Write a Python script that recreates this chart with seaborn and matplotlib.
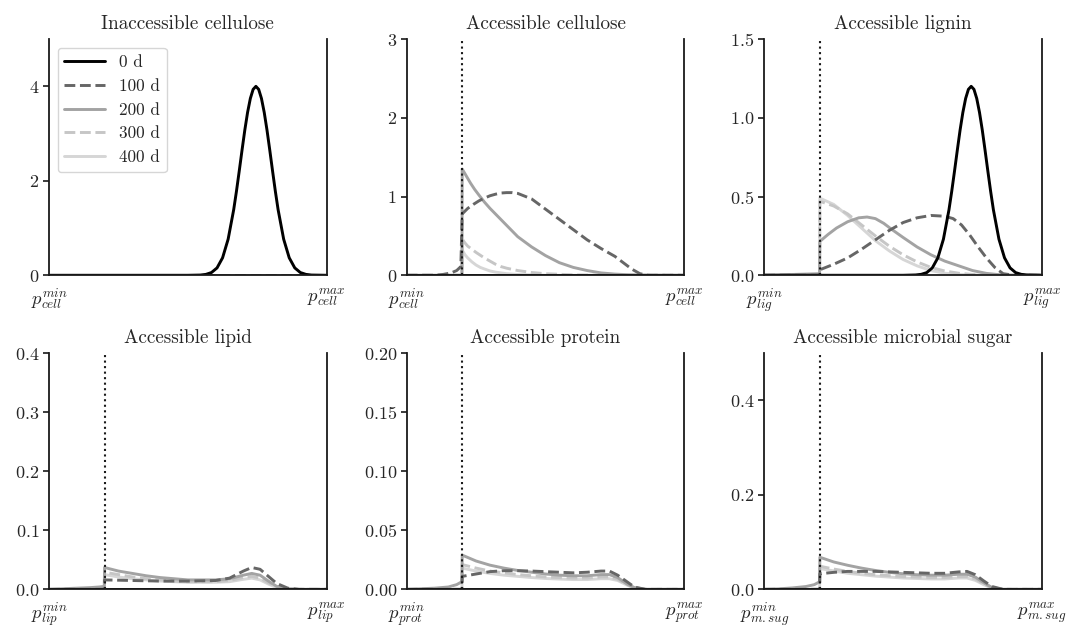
import numpy as np
import pandas as pd
import matplotlib
matplotlib.use('Agg')
import matplotlib.pyplot as plt
import seaborn as sns

days = ['0 d', '100 d', '200 d', '300 d', '400 d']
day_colors = ['#000000', '#666666', '#a3a3a3', '#c6c6c6', '#d6d6d6']
day_styles = ['-', '--', '-', '--', '-']

titles = ['Inaccessible cellulose', 'Accessible cellulose', 'Accessible lignin',
          'Accessible lipid', 'Accessible protein', 'Accessible microbial sugar']
subs = ['cell', 'cell', 'lig', 'lip', 'prot', 'm{.}sug']
ylims = [5, 3, 1.5, 0.4, 0.2, 0.5]
yticks = [[0, 2, 4], [0, 1, 2, 3], [0.0, 0.5, 1.0, 1.5],
          [0.0, 0.1, 0.2, 0.3, 0.4], [0.0, 0.05, 0.10, 0.15, 0.20], [0.0, 0.2, 0.4]]
cutoff = 0.2

zero_x = [0.0, 1.0]
zero_y = [0.0, 0.0]

# bell shaped initial distribution (inaccessible cellulose / lignin)
peak_x = [0.0, 0.5, 0.545, 0.565, 0.585, 0.605, 0.625, 0.645, 0.665, 0.675, 0.685, 0.695,
          0.705, 0.715, 0.725, 0.735, 0.745, 0.755, 0.765, 0.775, 0.785, 0.795, 0.805,
          0.815, 0.825, 0.845, 0.865, 0.885, 0.905, 0.925, 0.945, 1.0]
cell_in_0d = [0, 0, 0.005, 0.019, 0.058, 0.156, 0.37, 0.764, 1.388, 1.78, 2.208, 2.648,
              3.072, 3.448, 3.744, 3.936, 4.0, 3.936, 3.744, 3.448, 3.072, 2.648, 2.208,
              1.78, 1.388, 0.764, 0.37, 0.156, 0.058, 0.019, 0.005, 0]
lig_0d = [0, 0, 0.002, 0.006, 0.017, 0.047, 0.111, 0.229, 0.416, 0.534, 0.662, 0.794,
          0.922, 1.034, 1.123, 1.181, 1.2, 1.181, 1.123, 1.034, 0.922, 0.794, 0.662,
          0.534, 0.416, 0.229, 0.111, 0.047, 0.017, 0.006, 0.002, 0]

# accessible cellulose
cell_100d_x = [0.0, 0.1, 0.13, 0.16, 0.18, 0.195, 0.2, 0.22, 0.24, 0.26, 0.28, 0.3, 0.32,
               0.34, 0.36, 0.38, 0.4, 0.45, 0.5, 0.55, 0.6, 0.65, 0.7, 0.75, 0.78, 0.81,
               0.84, 0.87, 1.0]
cell_100d_y = [0, 0, 0.01, 0.03, 0.06, 0.11, 0.78, 0.85, 0.9, 0.945, 0.98, 1.01, 1.03,
               1.045, 1.05, 1.05, 1.04, 0.97, 0.84, 0.71, 0.58, 0.45, 0.34, 0.24, 0.16,
               0.08, 0.02, 0.0, 0]
cell_200d_x = [0.0, 0.199, 0.2, 0.215, 0.23, 0.245, 0.26, 0.28, 0.3, 0.325, 0.35, 0.375,
               0.4, 0.45, 0.5, 0.55, 0.6, 0.65, 0.7, 0.75, 0.8, 0.9, 1.0]
cell_200d_y = [0, 0, 1.35, 1.26, 1.17, 1.09, 1.02, 0.93, 0.85, 0.76, 0.67, 0.58,
               0.49, 0.36, 0.25, 0.16, 0.10, 0.06, 0.03, 0.015, 0.006, 0.001, 0]
cell_300d_x = [0.0, 0.199, 0.2, 0.21, 0.22, 0.235, 0.25, 0.265, 0.28, 0.3, 0.32, 0.34,
               0.36, 0.4, 0.45, 0.5, 0.6, 0.7, 1.0]
cell_300d_y = [0, 0, 0.46, 0.41, 0.37, 0.33, 0.29, 0.255, 0.22, 0.18, 0.14, 0.11,
               0.09, 0.06, 0.035, 0.02, 0.005, 0, 0]
cell_400d_x = [0.0, 0.199, 0.2, 0.21, 0.22, 0.235, 0.25, 0.265, 0.28, 0.3, 0.32, 0.36,
               0.4, 0.5, 1.0]
cell_400d_y = [0, 0, 0.32, 0.26, 0.22, 0.17, 0.13, 0.1, 0.08, 0.055, 0.04, 0.02,
               0.01, 0, 0]

# accessible lignin
lig_100d_x = [0.0, 0.199, 0.2, 0.25, 0.3, 0.35, 0.4, 0.45, 0.5, 0.55, 0.6, 0.65, 0.68,
              0.71, 0.74, 0.77, 0.8, 0.83, 0.86, 0.9, 1.0]
lig_100d_y = [0, 0, 0.035, 0.07, 0.11, 0.165, 0.225, 0.285, 0.335, 0.365, 0.38, 0.375,
              0.36, 0.32, 0.255, 0.18, 0.11, 0.05, 0.01, 0, 0]
lig_200d_x = [0.0, 0.199, 0.2, 0.23, 0.26, 0.3, 0.34, 0.37, 0.4, 0.43, 0.46, 0.5, 0.55,
              0.6, 0.65, 0.7, 0.75, 0.8, 0.85, 0.9, 1.0]
lig_200d_y = [0, 0.01, 0.215, 0.26, 0.30, 0.34, 0.365, 0.37, 0.36, 0.33, 0.29, 0.24,
              0.18, 0.13, 0.09, 0.06, 0.03, 0.012, 0.003, 0, 0]
lig_300d_x = [0.0, 0.199, 0.2, 0.25, 0.3, 0.35, 0.4, 0.45, 0.5, 0.55, 0.6, 0.65, 0.7,
              0.75, 0.8, 1.0]
lig_300d_y = [0, 0, 0.47, 0.44, 0.39, 0.32, 0.25, 0.185, 0.13, 0.085, 0.05, 0.027,
              0.013, 0.005, 0, 0]
lig_400d_x = [0.0, 0.199, 0.2, 0.25, 0.3, 0.35, 0.4, 0.45, 0.5, 0.55, 0.6, 0.65, 0.7,
              0.8, 1.0]
lig_400d_y = [0, 0, 0.49, 0.45, 0.38, 0.30, 0.22, 0.155, 0.10, 0.06, 0.03, 0.013,
              0.005, 0, 0]

# accessible lipid / protein / microbial sugar share the same x positions
tail_x = [0.0, 0.05, 0.1, 0.15, 0.18, 0.199, 0.2, 0.25, 0.3, 0.35, 0.4, 0.45, 0.5, 0.55,
          0.6, 0.65, 0.7, 0.73, 0.76, 0.79, 0.82, 0.86, 0.9, 1.0]
mix_x = [0.0, 0.199, 0.2, 0.25, 0.3, 0.35, 0.4, 0.45, 0.5, 0.55, 0.6, 0.65, 0.7, 0.73,
         0.76, 0.79, 0.82, 0.86, 0.9, 1.0]

lip_100d = [0, 0, 0.016, 0.0155, 0.015, 0.0145, 0.014, 0.014, 0.014, 0.0145, 0.015,
            0.019, 0.031, 0.037, 0.034, 0.022, 0.01, 0.002, 0, 0]
lip_200d = [0, 0.001, 0.002, 0.003, 0.004, 0.005, 0.037, 0.031, 0.027, 0.023, 0.02, 0.018,
            0.016, 0.016, 0.016, 0.018, 0.024, 0.027, 0.024, 0.014, 0.005, 0.001, 0, 0]
lip_300d = [0, 0, 0.029, 0.025, 0.021, 0.018, 0.016, 0.014, 0.013, 0.013, 0.013, 0.015,
            0.02, 0.022, 0.019, 0.011, 0.004, 0.001, 0, 0]
lip_400d = [0, 0, 0.025, 0.021, 0.018, 0.016, 0.014, 0.013, 0.012, 0.012, 0.012, 0.013,
            0.017, 0.019, 0.016, 0.009, 0.003, 0.001, 0, 0]

prot_100d = [0, 0, 0.011, 0.013, 0.015, 0.0158, 0.0158, 0.0155, 0.015, 0.0145, 0.014,
             0.0145, 0.0155, 0.0155, 0.012, 0.007, 0.002, 0, 0, 0]
prot_200d = [0, 0.0005, 0.001, 0.002, 0.004, 0.0065, 0.029, 0.024, 0.0205, 0.018, 0.016,
             0.0145, 0.013, 0.012, 0.0115, 0.0115, 0.0125, 0.0125, 0.010, 0.005, 0.0015,
             0, 0, 0]
prot_300d = [0, 0, 0.021, 0.018, 0.0155, 0.014, 0.0125, 0.0115, 0.0105, 0.01, 0.0095,
             0.0095, 0.0105, 0.0105, 0.0085, 0.0045, 0.0012, 0, 0, 0]
prot_400d = [0, 0, 0.018, 0.0155, 0.0135, 0.012, 0.011, 0.01, 0.0092, 0.0087, 0.0083,
             0.0083, 0.009, 0.009, 0.0075, 0.004, 0.001, 0, 0, 0]

sug_100d = [0, 0, 0.033, 0.036, 0.038, 0.038, 0.038, 0.037, 0.036, 0.035, 0.034, 0.034,
            0.037, 0.038, 0.031, 0.018, 0.006, 0, 0, 0]
sug_200d = [0, 0.001, 0.003, 0.006, 0.01, 0.016, 0.068, 0.058, 0.051, 0.045, 0.040,
            0.036, 0.033, 0.031, 0.030, 0.030, 0.032, 0.032, 0.026, 0.014, 0.004, 0, 0, 0]
sug_300d = [0, 0, 0.049, 0.043, 0.038, 0.034, 0.031, 0.029, 0.027, 0.026, 0.025, 0.025,
            0.027, 0.027, 0.022, 0.012, 0.003, 0, 0, 0]
sug_400d = [0, 0, 0.044, 0.039, 0.034, 0.031, 0.028, 0.026, 0.024, 0.023, 0.022, 0.022,
            0.024, 0.024, 0.019, 0.010, 0.003, 0, 0, 0]

panels = [
    [(peak_x, cell_in_0d), (zero_x, zero_y), (zero_x, zero_y), (zero_x, zero_y), (zero_x, zero_y)],
    [(zero_x, zero_y), (cell_100d_x, cell_100d_y), (cell_200d_x, cell_200d_y),
     (cell_300d_x, cell_300d_y), (cell_400d_x, cell_400d_y)],
    [(peak_x, lig_0d), (lig_100d_x, lig_100d_y), (lig_200d_x, lig_200d_y),
     (lig_300d_x, lig_300d_y), (lig_400d_x, lig_400d_y)],
    [(zero_x, zero_y), (mix_x, lip_100d), (tail_x, lip_200d), (mix_x, lip_300d), (mix_x, lip_400d)],
    [(zero_x, zero_y), (mix_x, prot_100d), (tail_x, prot_200d), (mix_x, prot_300d), (mix_x, prot_400d)],
    [(zero_x, zero_y), (mix_x, sug_100d), (tail_x, sug_200d), (mix_x, sug_300d), (mix_x, sug_400d)],
]

sns.set_theme(style='ticks')
plt.rcParams['font.family'] = ['serif']
plt.rcParams['font.serif'] = ['cmr10', 'DejaVu Serif']
plt.rcParams['mathtext.fontset'] = 'cm'
plt.rcParams['axes.unicode_minus'] = False
plt.rcParams['axes.formatter.use_mathtext'] = True

fig, axes = plt.subplots(2, 3, figsize=(10.73, 6.31), dpi=100)
plt.subplots_adjust(left=0.0457, right=0.9711, top=0.938, bottom=0.066,
                    wspace=0.288, hspace=0.33)

for idx, ax in enumerate(axes.flat):
    curves = panels[idx]
    for k in range(4, -1, -1):
        xs, ys = curves[k]
        df = pd.DataFrame({'x': xs, 'y': ys})
        sns.lineplot(data=df, x='x', y='y', ax=ax, color=day_colors[k],
                     linestyle=day_styles[k], lw=2.1, estimator=None, sort=False)
    if idx > 0:
        ax.axvline(cutoff, color='k', ls=':', lw=1.5, zorder=5)
    ax.set_xlim(0, 1)
    ax.set_ylim(0, ylims[idx])
    ax.set_yticks(yticks[idx])
    ax.set_xticks([0, 1])
    ax.set_xticklabels([r'$p_{%s}^{min}$' % subs[idx], r'$p_{%s}^{max}$' % subs[idx]],
                       fontsize=13.5)
    ax.tick_params(axis='x', length=0, pad=8)
    ax.tick_params(axis='y', labelsize=13, length=4, width=1.2, color='k', pad=3)
    ax.set_title(titles[idx], fontsize=13.8, pad=7)
    ax.set_xlabel('')
    ax.set_ylabel('')
    sns.despine(ax=ax, top=True, right=False)
    for side in ['left', 'bottom', 'right']:
        ax.spines[side].set_color('k')
        ax.spines[side].set_linewidth(1.3)
    if ax.get_legend() is not None:
        ax.get_legend().remove()

# legend in first panel, in day order
ax0 = axes.flat[0]
lines = ax0.get_lines()[:5][::-1]
ax0.legend(lines, days, loc='upper left', fontsize=12.3, handlelength=2.4,
           frameon=True)

fig.savefig('out.png', dpi=100)
